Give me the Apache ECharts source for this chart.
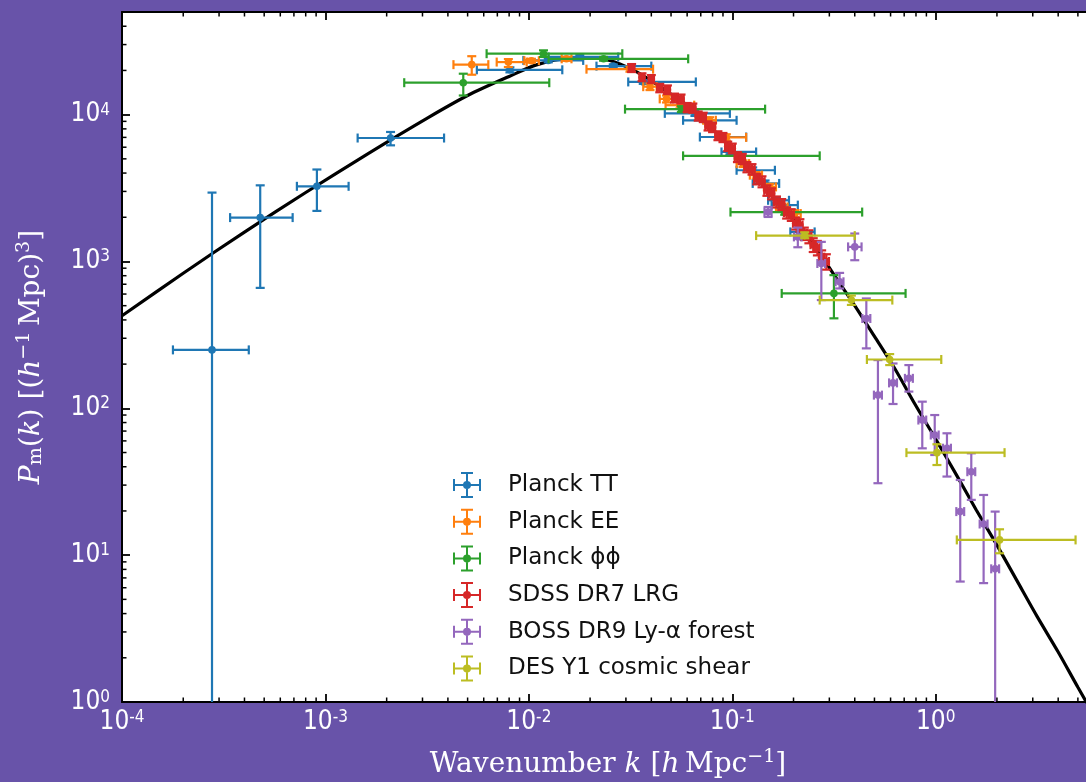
<!DOCTYPE html>
<html>
<head>
<meta charset="utf-8">
<script src="https://cdn.jsdelivr.net/npm/echarts@6/dist/echarts.min.js"></script>
<style>
  html, body { margin: 0; padding: 0; background: #6853a9; overflow: hidden; }
  #chart { width: 1086px; height: 782px; }
</style>
</head>
<body>
<div id="chart"></div>
<script>
// model curve P(k)
var kCurve = [1e-4, 2e-4, 4e-4, 8e-4, 1.6e-3, 3.2e-3, 5e-3, 8e-3, 0.011, 0.016, 0.02, 0.025, 0.032, 0.04, 0.05,
  0.063, 0.079, 0.1, 0.126, 0.158, 0.2, 0.25, 0.316, 0.4, 0.5, 0.63, 0.79, 1.0, 1.26, 1.58, 2.0, 2.5, 3.16, 4.0, 5.0, 6.0];
var pCurve = [427, 832, 1585, 2950, 5370, 9550, 13500, 18200, 21900, 24300, 24500, 23400, 20400, 17000, 13800,
  11000, 8130, 5750, 4070, 2750, 1950, 1320, 813, 501, 309, 186, 107, 61.7, 35.5, 20.4, 11.7, 6.76, 3.80, 2.19, 1.26, 0.81];

// rows: [k, P, kLow, kHigh, pLow, pHigh]
var planckTT = [
  [2.77e-4, 250, 1.78e-4, 4.2e-4, 0.3, 2945],
  [4.78e-4, 1990, 3.4e-4, 6.9e-4, 661, 3300],
  [9.08e-4, 3250, 7.24e-4, 1.30e-3, 2210, 4230],
  [2.09e-3, 6930, 1.44e-3, 3.83e-3, 6180, 7620],
  [8.07e-3, 20200, 5.55e-3, 1.46e-2, 19400, 21000],
  [0.01245, 23400, 0.0094, 0.0185, 22700, 24100],
  [0.0178, 24700, 0.0125, 0.0275, 24000, 25400],
  [0.026, 21400, 0.0215, 0.040, 20800, 22000],
  [0.0365, 16700, 0.0308, 0.0662, 16200, 17200],
  [0.0655, 10200, 0.0466, 0.0973, 9800, 10600],
  [0.0746, 9150, 0.0573, 0.105, 8800, 9500],
  [0.0869, 7040, 0.0693, 0.117, 6750, 7350],
  [0.0973, 5570, 0.0885, 0.131, 5350, 5800],
  [0.126, 4180, 0.105, 0.162, 4000, 4370],
  [0.145, 3400, 0.126, 0.17, 3250, 3560],
  [0.165, 2610, 0.15, 0.19, 2500, 2720],
  [0.171, 2420, 0.156, 0.21, 2320, 2520],
  [0.215, 1590, 0.193, 0.254, 1520, 1660]
];
var planckEE = [
  [5.24e-3, 21900, 4.26e-3, 6.32e-3, 18700, 25000],
  [7.93e-3, 22800, 6.95e-3, 9.76e-3, 21100, 23900],
  [0.0103, 23300, 0.0095, 0.0112, 22600, 24000],
  [0.0153, 24000, 0.0145, 0.0162, 23300, 24700],
  [0.0314, 20400, 0.0192, 0.0408, 19600, 21200],
  [0.0394, 15500, 0.0365, 0.0425, 14700, 16300],
  [0.0475, 12800, 0.044, 0.051, 12100, 13500],
  [0.0552, 11600, 0.047, 0.065, 11000, 12200],
  [0.0604, 11000, 0.056, 0.065, 10400, 11600],
  [0.0774, 9150, 0.072, 0.083, 8700, 9600],
  [0.0935, 7000, 0.087, 0.117, 6650, 7350],
  [0.113, 4640, 0.105, 0.121, 4400, 4880],
  [0.131, 3870, 0.122, 0.14, 3680, 4060],
  [0.153, 3220, 0.143, 0.164, 3060, 3380],
  [0.175, 2350, 0.164, 0.187, 2230, 2470],
  [0.203, 2120, 0.19, 0.217, 2000, 2240]
];
var planckPhi = [
  [4.76e-3, 16500, 2.44e-3, 0.0126, 13500, 19000],
  [0.0118, 26000, 6.2e-3, 0.0288, 24700, 27400],
  [0.0233, 24000, 0.0125, 0.0607, 23300, 24700],
  [0.0562, 10900, 0.0297, 0.145, 10400, 11400],
  [0.107, 5240, 0.0573, 0.269, 5000, 5500],
  [0.181, 2170, 0.098, 0.435, 2080, 2260],
  [0.316, 606, 0.175, 0.711, 410, 807]
];
var sdssLRG = [
  [0.032, 20800, 0.031, 0.033, 19500, 22100],
  [0.036, 18000, 0.035, 0.037, 16900, 19100],
  [0.040, 17500, 0.0388, 0.0412, 16400, 18600],
  [0.044, 15200, 0.0427, 0.0453, 14200, 16200],
  [0.048, 14800, 0.0466, 0.0494, 13800, 15800],
  [0.052, 13000, 0.0505, 0.0535, 12100, 13900],
  [0.056, 12800, 0.0543, 0.0577, 11900, 13700],
  [0.060, 11200, 0.0582, 0.0618, 10400, 12000],
  [0.064, 11100, 0.0621, 0.0659, 10300, 11900],
  [0.068, 9800, 0.066, 0.070, 9100, 10500],
  [0.072, 9600, 0.0698, 0.0742, 8900, 10300],
  [0.076, 8400, 0.0737, 0.0783, 7800, 9000],
  [0.080, 8200, 0.0776, 0.0824, 7600, 8800],
  [0.085, 7200, 0.0825, 0.0876, 6700, 7700],
  [0.090, 7000, 0.0873, 0.0927, 6500, 7500],
  [0.095, 6100, 0.0922, 0.0979, 5650, 6550],
  [0.100, 5900, 0.097, 0.103, 5450, 6350],
  [0.106, 5150, 0.1028, 0.1092, 4750, 5550],
  [0.112, 5000, 0.1086, 0.1154, 4600, 5400],
  [0.118, 4400, 0.1145, 0.1215, 4050, 4750],
  [0.125, 4250, 0.1213, 0.1288, 3900, 4600],
  [0.132, 3650, 0.128, 0.136, 3350, 3950],
  [0.140, 3500, 0.1358, 0.1442, 3200, 3800],
  [0.148, 3050, 0.1436, 0.1524, 2800, 3300],
  [0.156, 2900, 0.1513, 0.1607, 2650, 3150],
  [0.165, 2550, 0.160, 0.170, 2330, 2770],
  [0.175, 2450, 0.1698, 0.1803, 2240, 2660],
  [0.185, 2150, 0.1795, 0.1906, 1960, 2340],
  [0.195, 2080, 0.1892, 0.2009, 1890, 2270],
  [0.205, 1820, 0.1989, 0.2112, 1650, 1990],
  [0.215, 1770, 0.2086, 0.2215, 1600, 1940],
  [0.226, 1550, 0.2192, 0.2328, 1400, 1700],
  [0.238, 1480, 0.2309, 0.2451, 1330, 1630],
  [0.250, 1300, 0.2425, 0.2575, 1160, 1440],
  [0.262, 1240, 0.2541, 0.2699, 1100, 1380],
  [0.275, 1070, 0.2668, 0.2833, 950, 1190],
  [0.290, 1000, 0.2813, 0.2987, 880, 1120]
];
var bossLya = [
  [0.150, 2170, 0.144, 0.156, 2010, 2350],
  [0.210, 1470, 0.201, 0.219, 1250, 1700],
  [0.274, 969, 0.262, 0.286, 546, 1360],
  [0.337, 727, 0.322, 0.352, 655, 836],
  [0.400, 1257, 0.371, 0.432, 1020, 1550],
  [0.456, 409, 0.436, 0.477, 256, 560],
  [0.520, 123, 0.497, 0.544, 30.9, 213],
  [0.617, 149, 0.59, 0.645, 107, 202],
  [0.738, 160, 0.706, 0.772, 130, 197],
  [0.859, 83.2, 0.822, 0.898, 53.4, 111],
  [0.989, 65.8, 0.946, 1.034, 48.1, 90],
  [1.136, 53.5, 1.087, 1.188, 34.3, 67.6],
  [1.32, 19.8, 1.263, 1.38, 6.61, 32.5],
  [1.496, 37, 1.431, 1.564, 23.8, 49.4],
  [1.72, 16.3, 1.645, 1.798, 6.45, 25.7],
  [1.96, 8.07, 1.875, 2.05, 0.3, 19.8]
];
var desY1 = [
  [0.227, 1500, 0.131, 0.40, 1440, 1580],
  [0.385, 546, 0.269, 0.612, 506, 586],
  [0.594, 215, 0.459, 1.065, 197, 234],
  [1.014, 49.9, 0.718, 2.18, 41.1, 56.9],
  [2.06, 12.7, 1.27, 4.87, 10.3, 15.0]
];

var seriesNames = ['Planck TT', 'Planck EE', 'Planck \u03d5\u03d5', 'SDSS DR7 LRG', 'BOSS DR9 Ly-\u03b1 forest', 'DES Y1 cosmic shear'];
var seriesData = [planckTT, planckEE, planckPhi, sdssLRG, bossLya, desY1];
var seriesColors = ['#1f77b4', '#ff7f0e', '#2ca02c', '#d62728', '#9467bd', '#bcbd22'];

// axis ranges and minor tick mantissas
var xMin = 1e-4, xMax = 6;
var yMin = 1, yMax = 5e4;
var minorMant = [2, 3, 4, 5, 6, 7, 8, 9];
var xDecades = [-4, -3, -2, -1, 0];
var yDecades = [0, 1, 2, 3, 4];

var xMinor = [];
xDecades.forEach(function (d) {
  minorMant.forEach(function (m) {
    var v = m * Math.pow(10, d);
    if (v < xMax) xMinor.push([v, yMin]);
  });
});
var yMinor = [];
yDecades.forEach(function (d) {
  minorMant.forEach(function (m) {
    var v = m * Math.pow(10, d);
    if (v < yMax) yMinor.push([xMin, v]);
  });
});

var tickFont = "'Liberation Sans Narrow', 'DejaVu Sans Condensed', 'Liberation Sans', sans-serif";
var titleFont = "'DejaVu Serif', serif";

function powLabel(v) {
  var e = Math.round(Math.log10(v));
  if (Math.abs(v - Math.pow(10, e)) > 1e-6 * Math.pow(10, e)) return '';
  return '{b|10}{s|' + e + '}';
}
var tickRich = {
  b: { fontSize: 26, fontFamily: tickFont, color: '#fff' },
  s: { fontSize: 17, fontFamily: tickFont, color: '#fff', padding: [0, 0, 9, 0] }
};

function errRender(params, api) {
  var k = api.value(0), p = api.value(1);
  var c = api.coord([k, p]);
  var l = api.coord([api.value(2), p]), r = api.coord([api.value(3), p]);
  var b = api.coord([k, api.value(4)]), t = api.coord([k, api.value(5)]);
  var col = api.visual('color');
  var st = { stroke: col, lineWidth: 2.2 };
  var cap = 4.5;
  function seg(x1, y1, x2, y2) {
    return { type: 'line', shape: { x1: x1, y1: y1, x2: x2, y2: y2 }, style: st };
  }
  return {
    type: 'group',
    children: [
      seg(l[0], l[1], r[0], r[1]),
      seg(b[0], b[1], t[0], t[1]),
      seg(l[0], l[1] - cap, l[0], l[1] + cap),
      seg(r[0], r[1] - cap, r[0], r[1] + cap),
      seg(b[0] - cap, b[1], b[0] + cap, b[1]),
      seg(t[0] - cap, t[1], t[0] + cap, t[1]),
      { type: 'circle', shape: { cx: c[0], cy: c[1], r: 3.8 }, style: { fill: col } }
    ]
  };
}

var legendIcon = 'path://M0,12h28v2h-28z M13,0h2v26h-2z M0,7h2v12h-2z M26,7h2v12h-2z M8,0h12v2h-12z M8,24h12v2h-12z M10,13a4,4 0 1 1 8,0a4,4 0 1 1 -8,0z';

var series = [{
  name: 'model',
  type: 'line',
  data: kCurve.map(function (k, i) { return [k, pCurve[i]]; }),
  showSymbol: false,
  smooth: 0.3,
  clip: true,
  z: 1,
  lineStyle: { color: '#000', width: 3.2 },
  silent: true
}];
seriesData.forEach(function (d, i) {
  series.push({
    name: seriesNames[i],
    type: 'custom',
    data: d,
    renderItem: errRender,
    encode: { x: 0, y: 1 },
    itemStyle: { color: seriesColors[i] },
    clip: true,
    z: 3 + i,
    silent: true
  });
});
// minor log ticks on all four sides
series.push({
  type: 'custom', data: xMinor, clip: false, silent: true, z: 20,
  renderItem: function (params, api) {
    var v = api.value(0);
    var bt = api.coord([v, yMin]), tp = api.coord([v, yMax]);
    var st = { stroke: '#000', lineWidth: 1.5 };
    return { type: 'group', children: [
      { type: 'line', shape: { x1: bt[0], y1: bt[1], x2: bt[0], y2: bt[1] - 4.5 }, style: st },
      { type: 'line', shape: { x1: tp[0], y1: tp[1], x2: tp[0], y2: tp[1] + 4.5 }, style: st }
    ] };
  }
});
series.push({
  type: 'custom', data: yMinor, clip: false, silent: true, z: 20,
  renderItem: function (params, api) {
    var v = api.value(1);
    var lf = api.coord([xMin, v]), rt = api.coord([xMax, v]);
    var st = { stroke: '#000', lineWidth: 1.5 };
    return { type: 'group', children: [
      { type: 'line', shape: { x1: lf[0], y1: lf[1], x2: lf[0] + 4.5, y2: lf[1] }, style: st },
      { type: 'line', shape: { x1: rt[0], y1: rt[1], x2: rt[0] - 4.5, y2: rt[1] }, style: st }
    ] };
  }
});

function logAxis(pos, min, max, showLabel) {
  return {
    type: 'log', logBase: 10, position: pos, min: min, max: max,
    axisLine: { show: true, lineStyle: { color: '#000', width: 2 } },
    axisTick: { show: true, inside: true, length: 8, lineStyle: { color: '#000', width: 1.8 } },
    splitLine: { show: false },
    axisLabel: showLabel ? { show: true, formatter: powLabel, rich: tickRich, margin: 7 } : { show: false }
  };
}

var xBottom = logAxis('bottom', xMin, xMax, true);
xBottom.name = 'Wavenumber {i|k} [{i|h}\u2009Mpc{sup|\u22121}]';
xBottom.nameLocation = 'middle';
xBottom.nameGap = 46;
xBottom.nameTextStyle = {
  color: '#fff', fontFamily: titleFont, fontSize: 28,
  rich: {
    i: { fontFamily: titleFont, fontSize: 28, fontStyle: 'italic', color: '#fff' },
    sup: { fontFamily: titleFont, fontSize: 19, color: '#fff', padding: [0, 0, 14, 0] }
  }
};
var xTop = logAxis('top', xMin, xMax, false);

var yLeft = logAxis('left', yMin, yMax, true);
yLeft.axisLabel.margin = 12;
yLeft.name = '{i|P}{sub|m}({i|k}) [({i|h}{sup|\u22121}\u2009Mpc){sup|3}]';
yLeft.nameLocation = 'middle';
yLeft.nameRotate = 90;
yLeft.nameGap = 74;
yLeft.nameTextStyle = {
  color: '#fff', fontFamily: titleFont, fontSize: 28,
  rich: {
    i: { fontFamily: titleFont, fontSize: 28, fontStyle: 'italic', color: '#fff' },
    sub: { fontFamily: titleFont, fontSize: 19, color: '#fff', padding: [10, 0, 0, 0] },
    sup: { fontFamily: titleFont, fontSize: 19, color: '#fff', padding: [0, 0, 14, 0] }
  }
};
var yRight = logAxis('right', yMin, yMax, false);

var chart = echarts.init(document.getElementById('chart'), null, { renderer: 'canvas' });
chart.setOption({
  backgroundColor: '#6853a9',
  animation: false,
  grid: {
    left: 122, top: 12, width: 972, height: 690,
    outerBoundsMode: 'none', containLabel: false,
    show: true, backgroundColor: '#fff', borderWidth: 0
  },
  xAxis: [xBottom, xTop],
  yAxis: [yLeft, yRight],
  legend: {
    data: seriesNames.map(function (n) { return { name: n, icon: legendIcon }; }),
    orient: 'vertical',
    left: 448,
    top: 467,
    itemWidth: 28,
    itemHeight: 26,
    itemGap: 10.7,
    selectedMode: false,
    textStyle: { fontSize: 23, fontFamily: "'DejaVu Sans', sans-serif", color: '#111', padding: [0, 0, 0, 22] }
  },
  series: series
});
</script>
</body>
</html>
